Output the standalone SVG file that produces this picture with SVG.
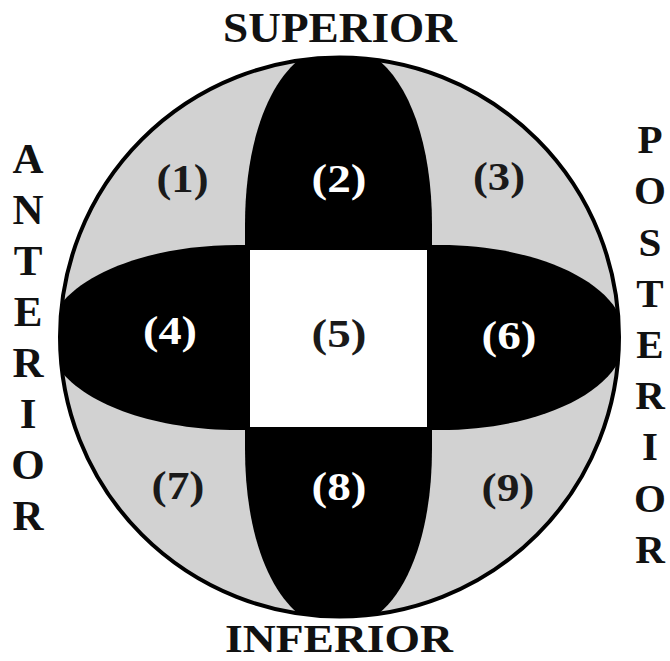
<svg xmlns="http://www.w3.org/2000/svg" width="670" height="661" viewBox="0 0 670 661">
<style>
text{font-family:"Liberation Serif",Tinos,"Times New Roman",Times,serif;font-weight:700;}
.lbl{fill:#111;}
.num{font-size:40px;text-anchor:middle;}
.dk{fill:#1a1a1a;}
.wt{fill:#ffffff;}
</style>
<defs>
<clipPath id="disc"><circle cx="339.5" cy="337" r="279.5"/></clipPath>
</defs>
<rect width="670" height="661" fill="#ffffff"/>
<g id="disc-bg">
<circle cx="339.5" cy="337" r="279.5" fill="#d2d2d2"/>
</g>
<g clip-path="url(#disc)">
<g id="lobe-vertical">
<path d="M245,449 L245,225 C245,119 284,45 338.5,45 C393,45 432,119 432,225 L432,449 C432,555 393,629 338.5,629 C284,629 245,555 245,449 Z" fill="#000"/>
</g>
<g id="lobe-horizontal">
<path d="M238,245 L440,245 C542,245 625,286.4 625,337.5 C625,388.6 542,430 440,430 L238,430 C133,430 48,388.6 48,337.5 C48,286.4 133,245 238,245 Z" fill="#000"/>
</g>
</g>
<g id="center-square">
<rect x="250" y="250" width="177" height="177" fill="#ffffff"/>
</g>
<g id="outline">
<circle cx="339.5" cy="337" r="279.5" fill="none" stroke="#000" stroke-width="4"/>
</g>
<g id="connectors"/>
<g id="region-1"><text class="num dk" x="182.5" y="192" textLength="52" lengthAdjust="spacingAndGlyphs">(1)</text></g>
<g id="region-2"><text class="num wt" x="339" y="192" textLength="55" lengthAdjust="spacingAndGlyphs">(2)</text></g>
<g id="region-3"><text class="num dk" x="499" y="190" textLength="52" lengthAdjust="spacingAndGlyphs">(3)</text></g>
<g id="region-4"><text class="num wt" x="170" y="344" textLength="54" lengthAdjust="spacingAndGlyphs">(4)</text></g>
<g id="region-5"><text class="num dk" x="339" y="347" textLength="55" lengthAdjust="spacingAndGlyphs">(5)</text></g>
<g id="region-6"><text class="num wt" x="509" y="349" textLength="55" lengthAdjust="spacingAndGlyphs">(6)</text></g>
<g id="region-7"><text class="num dk" x="178" y="499" textLength="53" lengthAdjust="spacingAndGlyphs">(7)</text></g>
<g id="region-8"><text class="num wt" x="339" y="500" textLength="55" lengthAdjust="spacingAndGlyphs">(8)</text></g>
<g id="region-9"><text class="num dk" x="508" y="501" textLength="53" lengthAdjust="spacingAndGlyphs">(9)</text></g>
<g id="label-superior"><text class="lbl" x="223" y="42" font-size="43" textLength="234" lengthAdjust="spacingAndGlyphs">SUPERIOR</text></g>
<g id="label-inferior"><text class="lbl" x="225" y="652" font-size="41" textLength="228" lengthAdjust="spacingAndGlyphs">INFERIOR</text></g>
<g id="label-anterior" class="lbl" font-size="43" text-anchor="middle">
<text x="28" y="173">A</text>
<text x="28" y="224">N</text>
<text x="28" y="275">T</text>
<text x="28" y="326">E</text>
<text x="28" y="377">R</text>
<text x="28" y="428">I</text>
<text x="28" y="479">O</text>
<text x="28" y="530">R</text>
</g>
<g id="label-posterior" class="lbl" font-size="41" text-anchor="middle">
<text x="650" y="153">P</text>
<text x="650" y="204">O</text>
<text x="650" y="256">S</text>
<text x="650" y="307">T</text>
<text x="650" y="358">E</text>
<text x="650" y="409">R</text>
<text x="650" y="460">I</text>
<text x="650" y="512">O</text>
<text x="650" y="563">R</text>
</g>
</svg>
